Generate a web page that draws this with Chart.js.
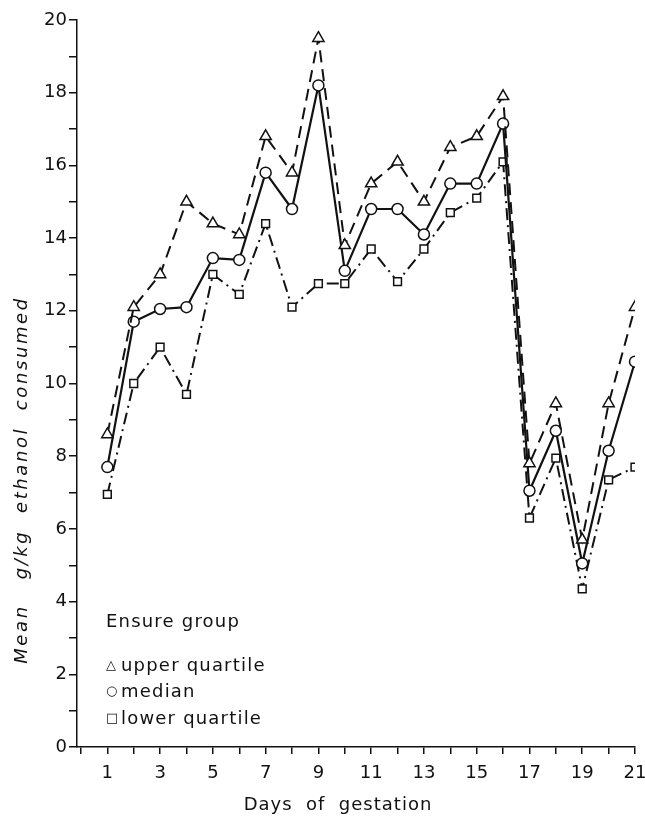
<!DOCTYPE html>
<html>
<head>
<meta charset="utf-8">
<script src="https://cdn.jsdelivr.net/npm/chart.js@4.4.1/dist/chart.umd.min.js"></script>
<style>
  html, body { margin: 0; padding: 0; background: #ffffff; }
  #wrap { width: 645px; height: 819px; position: relative; }
</style>
</head>
<body>
<div id="wrap"><canvas id="c" width="645" height="819"></canvas></div>
<script>
// ---- data ----
const days = [1, 2, 3, 4, 5, 6, 7, 8, 9, 10, 11, 12, 13, 14, 15, 16, 17, 18, 19, 20, 21];
const upperQuartile = [8.6, 12.1, 13.0, 15.0, 14.4, 14.1, 16.8, 15.8, 19.5, 13.8, 15.5, 16.1, 15.0, 16.5, 16.8, 17.9, 7.8, 9.45, 5.7, 9.45, 12.1];
const median = [7.7, 11.7, 12.05, 12.1, 13.45, 13.4, 15.8, 14.8, 18.2, 13.1, 14.8, 14.8, 14.1, 15.5, 15.5, 17.15, 7.05, 8.7, 5.05, 8.15, 10.6];
const lowerQuartile = [6.95, 10.0, 11.0, 9.7, 13.0, 12.45, 14.4, 12.1, 12.75, 12.75, 13.7, 12.8, 13.7, 14.7, 15.1, 16.1, 6.3, 7.95, 4.35, 7.35, 7.7];
const xTickValues = [0, 1, 2, 3, 4, 5, 6, 7, 8, 9, 10, 11, 12, 13, 14, 15, 16, 17, 18, 19, 20, 21];
const yTickValues = [0, 1, 2, 3, 4, 5, 6, 7, 8, 9, 10, 11, 12, 13, 14, 15, 16, 17, 18, 19, 20];
const seriesLabels = ['upper quartile', 'median', 'lower quartile'];
const legendTitle = 'Ensure group';
const xTitle = 'Days  of  gestation';
const yTitle = 'Mean   g/kg  ethanol  consumed';

const FONT = "'DejaVu Sans', 'Liberation Sans', sans-serif";

function pts(vals) { return days.map((d, i) => ({ x: d, y: vals[i] })); }

const annotations = {
  id: 'annotations',
  afterDraw(chart) {
    const ctx = chart.ctx;
    ctx.save();
    ctx.fillStyle = '#111';
    // y title
    ctx.save();
    ctx.translate(22, 480);
    ctx.rotate(-Math.PI / 2);
    ctx.font = 'italic 18px ' + FONT;
    ctx.letterSpacing = '2.6px';
    ctx.textAlign = 'center';
    ctx.textBaseline = 'middle';
    ctx.fillText(yTitle, 0, 0);
    ctx.restore();
    // x title
    ctx.font = '18px ' + FONT;
    ctx.letterSpacing = '1px';
    ctx.textAlign = 'center';
    ctx.textBaseline = 'middle';
    ctx.fillText(xTitle, 338, 805);
    // legend
    ctx.textAlign = 'left';
    ctx.letterSpacing = '1.2px';
    ctx.fillText(legendTitle, 106, 622);
    const symbols = ['\u25B3', '\u25CB', '\u25A1'];
    const rows = [666, 692, 719];
    for (let i = 0; i < 3; i++) {
      ctx.font = '13px ' + FONT;
      ctx.letterSpacing = '0px';
      ctx.fillText(symbols[i], 106, rows[i]);
      ctx.font = '18px ' + FONT;
      ctx.letterSpacing = '1.2px';
      ctx.fillText(seriesLabels[i], 121, rows[i]);
    }
    ctx.restore();
  }
};

new Chart(document.getElementById('c'), {
  type: 'line',
  data: {
    datasets: [
      {
        label: seriesLabels[0], data: pts(upperQuartile),
        borderColor: '#111', borderWidth: 2, borderDash: [12, 7],
        pointStyle: 'triangle', pointRadius: 6.5, pointBorderWidth: 1.5,
        pointBackgroundColor: '#fff', pointBorderColor: '#111', tension: 0
      },
      {
        label: seriesLabels[1], data: pts(median),
        borderColor: '#111', borderWidth: 2.2,
        pointStyle: 'circle', pointRadius: 5.5, pointBorderWidth: 1.5,
        pointBackgroundColor: '#fff', pointBorderColor: '#111', tension: 0
      },
      {
        label: seriesLabels[2], data: pts(lowerQuartile),
        borderColor: '#111', borderWidth: 2, borderDash: [12, 5, 2, 5],
        pointStyle: 'rect', pointRadius: 5.5, pointBorderWidth: 1.5,
        pointBackgroundColor: '#fff', pointBorderColor: '#111', tension: 0
      }
    ]
  },
  options: {
    responsive: false,
    animation: false,
    layout: { padding: { top: 20, right: 10, left: 0, bottom: 0 } },
    plugins: { legend: { display: false }, tooltip: { enabled: false } },
    scales: {
      x: {
        type: 'linear', min: -0.15, max: 21,
        afterBuildTicks: s => { s.ticks = xTickValues.map(v => ({ value: v })); },
        afterFit: s => { s.height = 72; s.paddingLeft = 0; s.paddingRight = 0; },
        ticks: {
          autoSkip: false, maxRotation: 0, color: '#111', padding: 9,
          font: { family: FONT, size: 18 },
          callback: v => (v % 2 === 1 ? String(v) : '')
        },
        grid: { drawOnChartArea: false, drawTicks: true, tickLength: 7, color: '#111', lineWidth: 1.5 },
        border: { display: true, color: '#111', width: 1.5 }
      },
      y: {
        type: 'linear', min: 0, max: 20,
        afterBuildTicks: s => { s.ticks = yTickValues.map(v => ({ value: v })); },
        afterFit: s => { s.width = 77; s.paddingTop = 0; s.paddingBottom = 0; },
        ticks: {
          autoSkip: false, color: '#111', padding: 2,
          font: { family: FONT, size: 18 },
          callback: v => (v % 2 === 0 ? String(v) : '')
        },
        grid: { drawOnChartArea: false, drawTicks: true, tickLength: 8, color: '#111', lineWidth: 1.5 },
        border: { display: true, color: '#111', width: 1.5 }
      }
    }
  },
  plugins: [annotations]
});
</script>
</body>
</html>
